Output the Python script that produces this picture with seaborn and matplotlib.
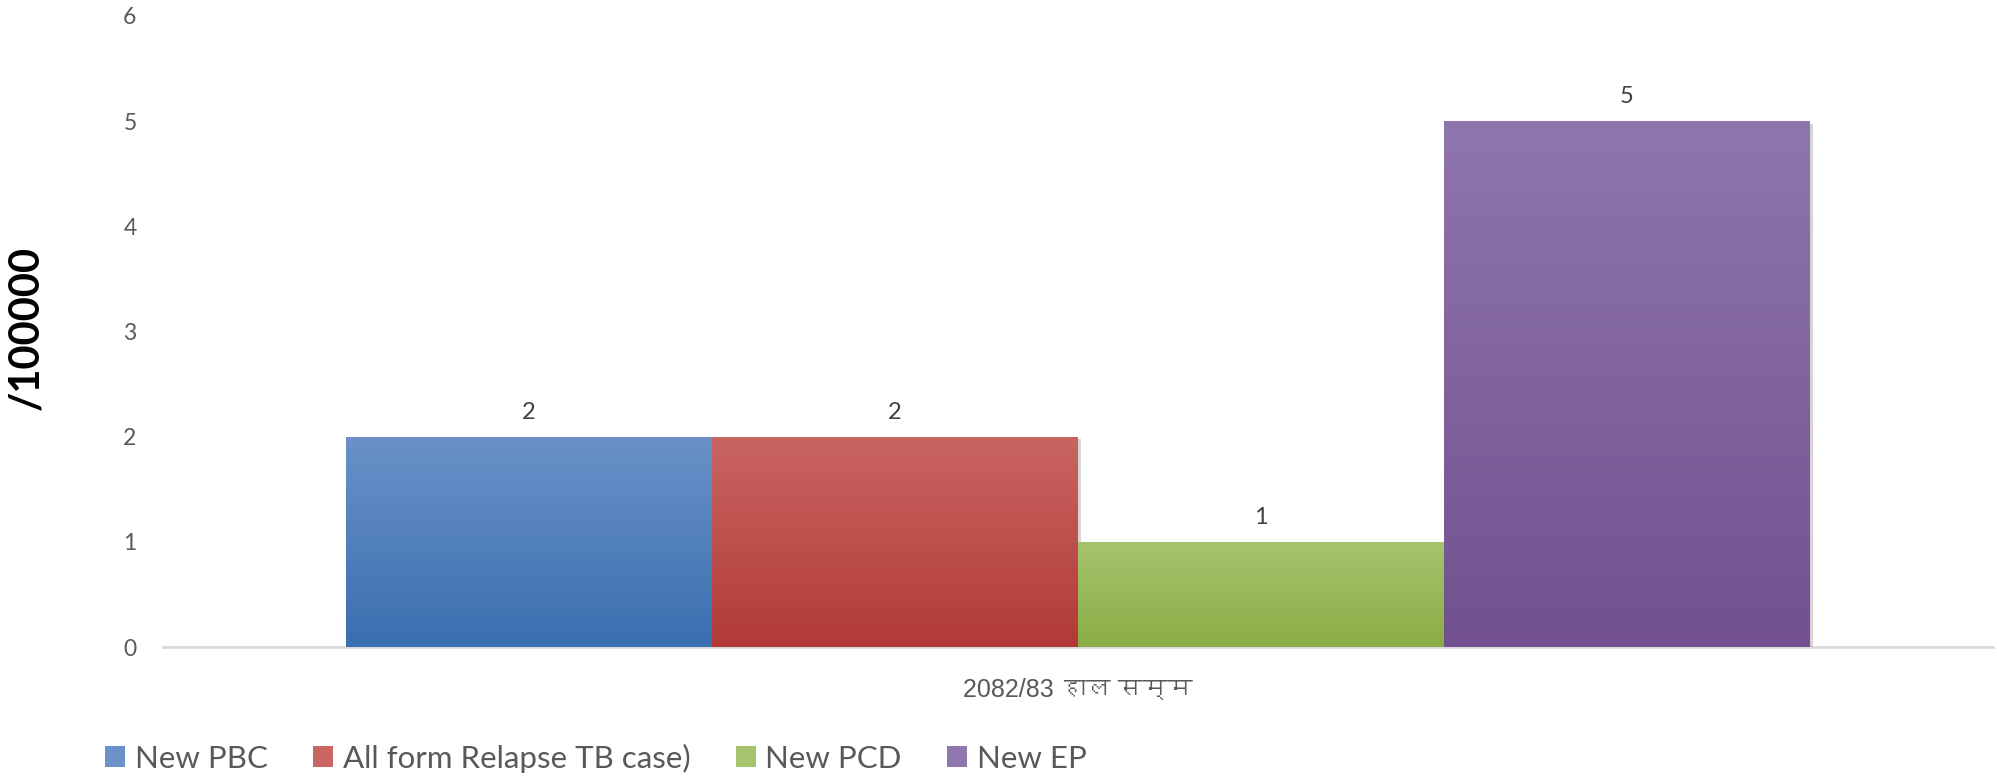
import numpy as np
import pandas as pd
import matplotlib
matplotlib.use("Agg")
import matplotlib.pyplot as plt
import seaborn as sns
from matplotlib import font_manager, ft2font
from matplotlib.colors import LinearSegmentedColormap
from matplotlib.patches import Patch
import matplotlib.patheffects as pe

# chart data
period = "2082/83 हाल सम्म"
series = ["New PBC", "All form Relapse TB case)", "New PCD", "New EP"]
values = [2, 2, 1, 5]

# top / bottom colours of each bar's gradient
tops = ["#6A91C8", "#C96563", "#A6C46E", "#8F76AC"]
bottoms = ["#3A6FB0", "#B23A36", "#8AAD45", "#72508F"]


def find_devanagari_font():
    # pick any installed font that can draw Devanagari
    for f in font_manager.fontManager.ttflist:
        try:
            if 0x0939 in ft2font.FT2Font(f.fname).get_charmap():
                return f.name
        except Exception:
            pass
    return "DejaVu Sans"


deva = find_devanagari_font()

sns.set_theme(style="white")
plt.rcParams["font.family"] = ["Lato", "DejaVu Sans"]

df = pd.DataFrame({"period": [period] * len(series), "series": series, "value": values})

fig = plt.figure(figsize=(19.97, 7.80), dpi=100)
ax = fig.add_axes([163 / 1997, 1 - 647 / 780, 1830 / 1997, 631 / 780])

sns.barplot(data=df, x="period", y="value", hue="series", hue_order=series,
            palette=tops, width=0.8, legend=False, ax=ax, saturation=1)

# vertical gradient fill on every bar + soft shadow
for cont, top, bot in zip(ax.containers, tops, bottoms):
    cmap = LinearSegmentedColormap.from_list("g", [bot, top])
    for bar in cont:
        bar.set_edgecolor("none")
        bar.set_path_effects([pe.SimplePatchShadow(offset=(2, -2), shadow_rgbFace="#888888", alpha=0.35),
                              pe.Normal()])
        x0, y0 = bar.get_x(), bar.get_y()
        w, h = bar.get_width(), bar.get_height()
        grad = np.linspace(0, 1, 256).reshape(-1, 1)
        im = ax.imshow(grad, extent=[x0, x0 + w, y0, y0 + h], origin="lower",
                       cmap=cmap, aspect="auto", zorder=bar.get_zorder() + 0.1)
        im.set_clip_path(bar)
    ax.bar_label(cont, fmt="%g", padding=10, fontsize=17, color="#404040")

ax.set_xlim(-0.5, 0.5)
ax.set_ylim(0, 6)
ax.set_yticks(range(0, 7))
for s in ["top", "right", "left"]:
    ax.spines[s].set_visible(False)
ax.spines["bottom"].set_color("#D9D9D9")
ax.spines["bottom"].set_linewidth(2)
ax.spines["bottom"].set_zorder(0)

ax.tick_params(axis="y", length=0, pad=19, labelsize=16.5, labelcolor="#595959")
ax.tick_params(axis="x", length=0, pad=22, labelcolor="#595959")
for lab in ax.get_xticklabels():
    lab.set_fontfamily(["Liberation Sans", deva])
    lab.set_fontsize(18)

ax.set_xlabel("")
ax.set_ylabel("/100000", fontsize=30, fontweight="bold", color="black")
ax.yaxis.set_label_coords(-0.0645, 0.505)

handles = [Patch(facecolor=t, edgecolor="none") for t in tops]
fig.legend(handles, series, loc="center left", bbox_to_anchor=(105 / 1997, 1 - 758 / 780),
           ncol=4, frameon=False, fontsize=22.5, labelcolor="#595959",
           handlelength=0.65, handleheight=0.65, handletextpad=0.3,
           columnspacing=1.45, borderpad=0, borderaxespad=0)

fig.savefig("out.png", dpi=100, facecolor="white")
